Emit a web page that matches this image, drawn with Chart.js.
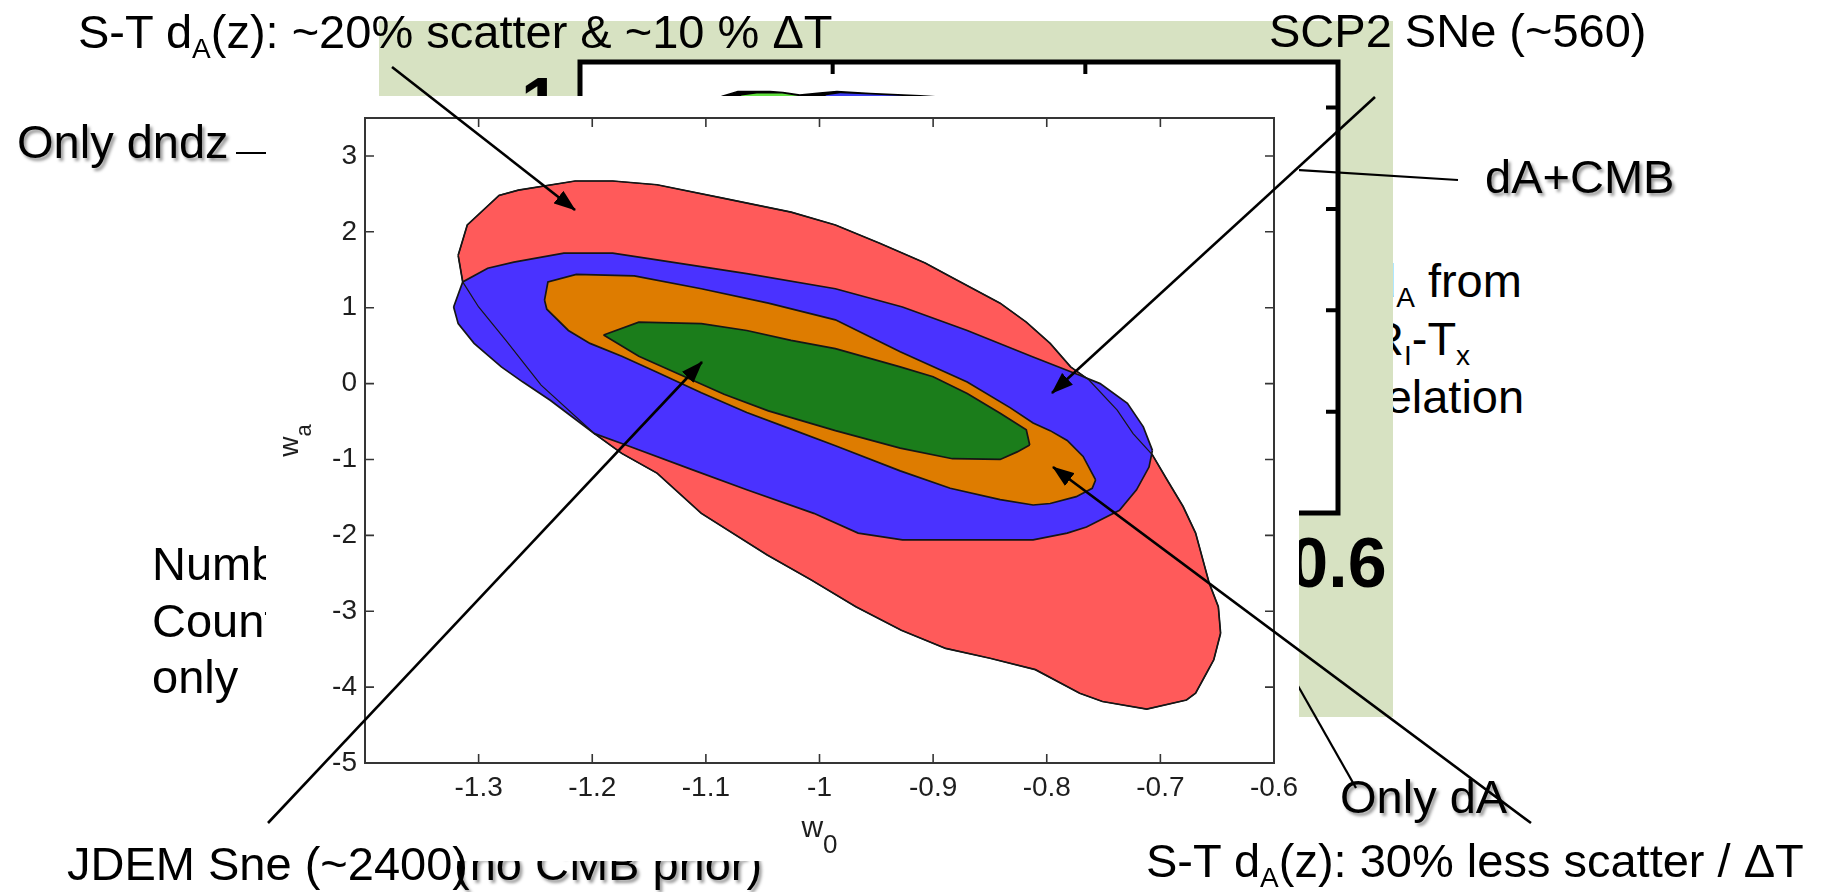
<!DOCTYPE html>
<html>
<head>
<meta charset="utf-8">
<title>w0 - wa constraints</title>
<script src="https://cdn.jsdelivr.net/npm/chart.js@4.4.1/dist/chart.umd.min.js"></script>
<style>
  html, body { margin: 0; padding: 0; background: #fff; }
  #slide { position: relative; width: 1828px; height: 892px; overflow: hidden; background: #fff; }
  #slide > * { position: absolute; left: 0; top: 0; }
  svg text { font-family: 'Liberation Sans', Arial, Helvetica, sans-serif; font-size: 47px; fill: #000; }
  #green { left: 379px; top: 21px; width: 1014px; height: 696px; background: #d7e2c2; z-index: 2; }
  #cover { left: 266px; top: 96px; width: 1033px; height: 765px; background: #fff; z-index: 5; }
</style>
</head>
<body>
<div id="slide">
  <svg id="under" width="1828" height="892" style="z-index:1">
    <text x="1370" y="297">d<tspan font-size="28" dy="10">A</tspan><tspan dy="-10"> from</tspan></text>
    <text x="1370" y="355">R<tspan font-size="28" dy="10">I</tspan><tspan dy="-10">-T</tspan><tspan font-size="28" dy="10">x</tspan></text>
    <text x="1370" y="413">relation</text>
  </svg>

  <div id="green"></div>

  <canvas id="inset" width="1828" height="892" style="z-index:3"></canvas>

  <svg id="mid" width="1828" height="892" style="z-index:4">
    <defs>
      <filter id="shadowMid" x="-10%" y="-30%" width="130%" height="170%">
        <feDropShadow dx="2.5" dy="3" stdDeviation="1.6" flood-color="#000" flood-opacity="0.4"/>
      </filter>
    </defs>
    <text x="152" y="580">Number</text>
    <text x="152" y="637">Counts</text>
    <text x="152" y="693">only</text>
    <text x="454" y="880" filter="url(#shadowMid)">(no CMB prior)</text>
    <g stroke="#000" stroke-width="2.2" fill="none">
      <line x1="236" y1="153" x2="300" y2="153"/>
      <line x1="1458" y1="180" x2="1280" y2="168.8"/>
      <line x1="1356" y1="788" x2="1289" y2="670"/>
    </g>
  </svg>

  <div id="cover"></div>

  <canvas id="main" width="1828" height="892" style="z-index:6"></canvas>

  <svg id="top" width="1828" height="892" style="z-index:7">
    <defs>
      <filter id="shadowTop" x="-10%" y="-30%" width="130%" height="170%">
        <feDropShadow dx="2.5" dy="3" stdDeviation="1.6" flood-color="#000" flood-opacity="0.4"/>
      </filter>
      <marker id="head" markerUnits="userSpaceOnUse" markerWidth="22" markerHeight="16"
              refX="21" refY="8" orient="auto">
        <path d="M0,0 L22,8 L0,16 Z" fill="#000"/>
      </marker>
    </defs>
    <text x="78" y="48">S-T d<tspan font-size="28" dy="10">A</tspan><tspan dy="-10">(z): ~20% scatter &amp; ~10 % ΔT</tspan></text>
    <text x="1269" y="47">SCP2 SNe (~560)</text>
    <text x="17" y="158" filter="url(#shadowTop)">Only dndz</text>
    <text x="1485" y="193" filter="url(#shadowTop)">dA+CMB</text>
    <text x="67" y="880">JDEM Sne (~2400)</text>
    <text x="1340" y="813" filter="url(#shadowTop)">Only dA</text>
    <text x="1146" y="877">S-T d<tspan font-size="28" dy="10">A</tspan><tspan dy="-10">(z): 30% less scatter / ΔT</tspan></text>
    <g stroke="#000" stroke-width="2.6" fill="none" marker-end="url(#head)">
      <line x1="392" y1="67" x2="575" y2="210"/>
      <line x1="1375" y1="97" x2="1052" y2="393"/>
      <line x1="268" y1="823" x2="702" y2="362"/>
      <line x1="1531" y1="823" x2="1053" y2="467"/>
    </g>
  </svg>
</div>

<script>
const FONT = "'Liberation Sans', Arial, Helvetica, sans-serif"

// axis ticks of the w0-wa plot
const W0_TICKS = [-1.3, -1.2, -1.1, -1, -0.9, -0.8, -0.7, -0.6]
const WA_TICKS = [-5, -4, -3, -2, -1, 0, 1, 2, 3]

// axis ticks of the plot behind it
const INSET_X_TICKS = [0.3, 0.4, 0.5, 0.6]
const INSET_Y_TICKS = [0.6, 0.7, 0.8, 0.9, 1]

// contour edges as [w0, wa], each region split into upper and lower edge
const RED_UPPER = [
  [-1.318, 1.69], [-1.310, 2.09], [-1.282, 2.48], [-1.265, 2.55], [-1.215, 2.67],
  [-1.182, 2.67], [-1.143, 2.62], [-1.084, 2.44], [-1.025, 2.26], [-0.986, 2.09],
  [-0.947, 1.85], [-0.907, 1.59], [-0.885, 1.41], [-0.841, 1.06], [-0.818, 0.81],
  [-0.797, 0.53], [-0.779, 0.22], [-0.763, 0.05], [-0.738, -0.35], [-0.724, -0.66],
  [-0.707, -0.94], [-0.694, -1.27], [-0.680, -1.62], [-0.669, -1.97], [-0.657, -2.63],
  [-0.649, -2.94], [-0.647, -3.29],
]
const RED_LOWER = [
  [-1.318, 1.69], [-1.314, 1.34], [-1.300, 1.01], [-1.276, 0.57], [-1.245, -0.02],
  [-1.198, -0.66], [-1.174, -0.92], [-1.143, -1.18], [-1.104, -1.71], [-1.046, -2.26],
  [-1.007, -2.59], [-0.968, -2.94], [-0.928, -3.25], [-0.889, -3.49], [-0.850, -3.62],
  [-0.810, -3.77], [-0.771, -4.08], [-0.751, -4.19], [-0.712, -4.29], [-0.677, -4.17],
  [-0.669, -4.08], [-0.661, -3.86], [-0.653, -3.64], [-0.647, -3.29],
]
const BLUE_UPPER = [
  [-1.322, 1.01], [-1.314, 1.34], [-1.292, 1.52], [-1.269, 1.60], [-1.225, 1.72],
  [-1.182, 1.72], [-1.143, 1.63], [-1.064, 1.45], [-0.986, 1.25], [-0.927, 1.01],
  [-0.870, 0.70], [-0.812, 0.35], [-0.771, 0.11], [-0.753, 0.00], [-0.729, -0.26],
  [-0.715, -0.57], [-0.707, -0.88],
]
const BLUE_LOWER = [
  [-1.322, 1.01], [-1.318, 0.79], [-1.304, 0.53], [-1.280, 0.22], [-1.261, 0.02],
  [-1.237, -0.22], [-1.214, -0.48], [-1.198, -0.66], [-1.174, -0.79], [-1.111, -1.14],
  [-1.064, -1.40], [-1.005, -1.71], [-0.966, -1.97], [-0.927, -2.06], [-0.812, -2.06],
  [-0.782, -1.97], [-0.765, -1.89], [-0.736, -1.67], [-0.721, -1.40], [-0.710, -1.10],
  [-0.707, -0.88],
]
const ORANGE_UPPER = [
  [-1.242, 1.10], [-1.239, 1.34], [-1.214, 1.44], [-1.163, 1.42], [-1.104, 1.25],
  [-1.045, 1.06], [-0.986, 0.84], [-0.929, 0.42], [-0.870, 0.02], [-0.832, -0.32],
  [-0.812, -0.52], [-0.797, -0.62], [-0.782, -0.75], [-0.768, -0.96], [-0.757, -1.27],
]
const ORANGE_LOWER = [
  [-1.242, 1.10], [-1.240, 0.98], [-1.221, 0.70], [-1.202, 0.53], [-1.174, 0.36],
  [-1.143, 0.15], [-1.104, -0.12], [-1.064, -0.38], [-1.025, -0.60], [-0.986, -0.82],
  [-0.929, -1.15], [-0.885, -1.38], [-0.841, -1.53], [-0.812, -1.60], [-0.797, -1.58],
  [-0.774, -1.49], [-0.760, -1.38], [-0.757, -1.27],
]
const GREEN_UPPER = [
  [-1.190, 0.64], [-1.159, 0.81], [-1.104, 0.79], [-1.064, 0.70], [-1.025, 0.57],
  [-0.986, 0.46], [-0.929, 0.22], [-0.900, 0.09], [-0.870, -0.13], [-0.841, -0.39],
  [-0.818, -0.61], [-0.815, -0.81],
]
const GREEN_LOWER = [
  [-1.190, 0.64], [-1.159, 0.36], [-1.123, 0.12], [-1.084, -0.14], [-1.045, -0.36],
  [-0.986, -0.62], [-0.929, -0.85], [-0.883, -0.99], [-0.841, -1.00], [-0.826, -0.90],
  [-0.815, -0.81],
]

// tops of the contours peeking out of the plot behind
const INSET_DARK = [
  [0.3487, 1.0072], [0.3560, 1.0110], [0.3625, 1.0160], [0.3752, 1.0158], [0.3803, 1.0150],
  [0.3870, 1.0125], [0.3950, 1.0145], [0.4017, 1.0160], [0.4148, 1.0140], [0.4346, 1.0118],
  [0.4571, 1.0080], [0.4620, 1.0072],
]
const INSET_GREEN = [
  [0.3594, 1.0068], [0.3640, 1.0120], [0.3700, 1.0140], [0.3800, 1.0138], [0.3870, 1.0112],
  [0.3900, 1.0068],
]
const INSET_BLUE = [
  [0.3942, 1.0068], [0.3975, 1.0122], [0.4030, 1.0142], [0.4150, 1.0130], [0.4300, 1.0112],
  [0.4460, 1.0090], [0.4520, 1.0068],
]

const toPoints = rows => rows.map(([x, y]) => ({ x, y }))

function edge(rows, extra = {}) {
  return {
    data: toPoints(rows),
    showLine: true,
    pointRadius: 0,
    pointHoverRadius: 0,
    borderColor: '#161616',
    borderWidth: 1.7,
    tension: 0,
    fill: false,
    ...extra,
  }
}

// box around the plot area with inward tick marks
const framePlugin = {
  id: 'frame',
  beforeDraw(chart, args, opts) {
    if (!opts.fill) return
    const { ctx, chartArea: a } = chart
    ctx.save()
    ctx.fillStyle = opts.fill
    ctx.fillRect(a.left, a.top, a.width, a.height)
    ctx.restore()
  },
  afterDraw(chart, args, opts) {
    const { ctx, chartArea: a, scales: { x, y } } = chart
    ctx.save()
    ctx.strokeStyle = opts.color
    ctx.lineWidth = opts.tickWidth
    ctx.beginPath()
    for (const t of x.ticks) {
      const px = x.getPixelForValue(t.value)
      if (px <= a.left + 1 || px >= a.right - 1) continue
      ctx.moveTo(px, a.bottom)
      ctx.lineTo(px, a.bottom - opts.tickLength)
      ctx.moveTo(px, a.top)
      ctx.lineTo(px, a.top + opts.tickLength)
    }
    for (const t of y.ticks) {
      const py = y.getPixelForValue(t.value)
      if (py <= a.top + 1 || py >= a.bottom - 1) continue
      ctx.moveTo(a.left, py)
      ctx.lineTo(a.left + opts.tickLength, py)
      ctx.moveTo(a.right, py)
      ctx.lineTo(a.right - opts.tickLength, py)
    }
    ctx.stroke()
    ctx.lineWidth = opts.width
    ctx.strokeRect(a.left, a.top, a.width, a.height)
    ctx.restore()
  },
}

function subscripted(ctx, base, sub, cx, y, size, subSize, drop) {
  ctx.font = `${size}px ${FONT}`
  const bw = ctx.measureText(base).width
  ctx.font = `${subSize}px ${FONT}`
  const sw = ctx.measureText(sub).width
  const x0 = cx - (bw + sw) / 2
  ctx.textAlign = 'left'
  ctx.textBaseline = 'alphabetic'
  ctx.font = `${size}px ${FONT}`
  ctx.fillText(base, x0, y)
  ctx.font = `${subSize}px ${FONT}`
  ctx.fillText(sub, x0 + bw, y + drop)
}

// w0 / wa axis titles with subscripts
const axisTitles = {
  id: 'axisTitles',
  afterDraw(chart) {
    const { ctx, chartArea: a } = chart
    ctx.save()
    ctx.fillStyle = '#1e1e1e'
    subscripted(ctx, 'w', '0', (a.left + a.right) / 2, 837, 30, 26, 16)
    ctx.translate(298, (a.top + a.bottom) / 2)
    ctx.rotate(-Math.PI / 2)
    subscripted(ctx, 'w', 'a', 0, 0, 28, 22, 13)
    ctx.restore()
  },
}

const RED = '#ff5a5a'
const BLUE = '#4a32ff'
const ORANGE = '#de7c00'
const GREEN = '#1b7d1b'

new Chart(document.getElementById('main'), {
  type: 'scatter',
  data: {
    datasets: [
      edge(RED_UPPER, { order: 10 }),
      edge(RED_LOWER, { order: 11, fill: 0, backgroundColor: RED }),
      edge(BLUE_UPPER, { order: 8 }),
      edge(BLUE_LOWER, { order: 9, fill: 2, backgroundColor: BLUE }),
      edge(RED_UPPER, { order: 7, borderWidth: 1.2 }),
      edge(RED_LOWER, { order: 7, borderWidth: 1.2 }),
      edge(ORANGE_UPPER, { order: 4 }),
      edge(ORANGE_LOWER, { order: 5, fill: 6, backgroundColor: ORANGE }),
      edge(GREEN_UPPER, { order: 2 }),
      edge(GREEN_LOWER, { order: 3, fill: 8, backgroundColor: GREEN }),
    ],
  },
  options: {
    responsive: false,
    animation: false,
    events: [],
    layout: { padding: { left: 265, top: 118, right: 554, bottom: 29 } },
    plugins: {
      legend: { display: false },
      tooltip: { enabled: false },
      frame: { color: '#353535', width: 2, tickWidth: 1.6, tickLength: 9 },
    },
    scales: {
      x: {
        type: 'linear',
        min: -1.4,
        max: -0.6,
        afterBuildTicks: s => { s.ticks = W0_TICKS.map(value => ({ value })) },
        afterFit: s => { s.height = 100 },
        grid: { display: false, drawTicks: false },
        border: { display: false },
        ticks: {
          font: { family: FONT, size: 28 },
          color: '#1e1e1e',
          padding: 8,
          maxRotation: 0,
          autoSkip: false,
          callback: v => String(v),
        },
      },
      y: {
        type: 'linear',
        min: -5,
        max: 3.5,
        afterBuildTicks: s => { s.ticks = WA_TICKS.map(value => ({ value })) },
        afterFit: s => { s.width = 100 },
        grid: { display: false, drawTicks: false },
        border: { display: false },
        ticks: {
          font: { family: FONT, size: 28 },
          color: '#1e1e1e',
          padding: 8,
          autoSkip: false,
          callback: v => String(v),
        },
      },
    },
  },
  plugins: [framePlugin, axisTitles],
})

new Chart(document.getElementById('inset'), {
  type: 'scatter',
  data: {
    datasets: [
      edge(INSET_GREEN, { order: 1, borderColor: 'transparent', fill: 'start', backgroundColor: '#62e040' }),
      edge(INSET_BLUE, { order: 1, borderColor: 'transparent', fill: 'start', backgroundColor: '#3c3cf0' }),
      edge(INSET_DARK, { order: 2, borderColor: '#000', borderWidth: 1.5, fill: 'start', backgroundColor: '#000' }),
    ],
  },
  options: {
    responsive: false,
    animation: false,
    events: [],
    layout: { padding: { left: 380, top: 58, right: 490, bottom: 179 } },
    plugins: {
      legend: { display: false },
      tooltip: { enabled: false },
      frame: { fill: '#fff', color: '#000', width: 5, tickWidth: 4, tickLength: 12 },
    },
    scales: {
      x: {
        type: 'linear',
        min: 0.3,
        max: 0.6,
        afterBuildTicks: s => { s.ticks = INSET_X_TICKS.map(value => ({ value })) },
        afterFit: s => { s.height = 200 },
        grid: { display: false, drawTicks: false },
        border: { display: false },
        ticks: {
          font: { family: FONT, size: 70, weight: 'bold' },
          color: '#000',
          padding: 13,
          maxRotation: 0,
          autoSkip: false,
          callback: v => String(v),
        },
      },
      y: {
        type: 'linear',
        min: 0.6,
        max: 1.045,
        afterBuildTicks: s => { s.ticks = INSET_Y_TICKS.map(value => ({ value })) },
        afterFit: s => { s.width = 200 },
        grid: { display: false, drawTicks: false },
        border: { display: false },
        ticks: {
          font: { family: FONT, size: 70, weight: 'bold' },
          color: '#000',
          padding: 20,
          autoSkip: false,
          callback: v => String(v),
        },
      },
    },
  },
  plugins: [framePlugin],
})
</script>
</body>
</html>
